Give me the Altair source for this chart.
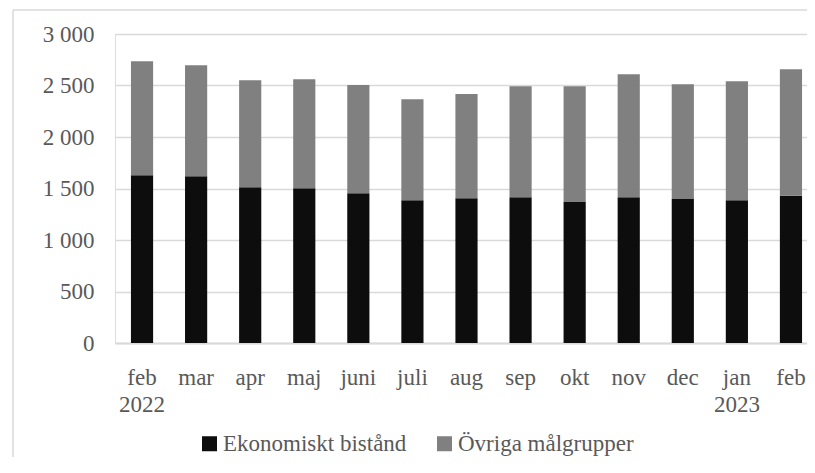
import altair as alt
import pandas as pd

months = ["feb 2022", "mar", "apr", "maj", "juni", "juli", "aug",
          "sep", "okt", "nov", "dec", "jan 2023", "feb"]
ekonomiskt = [1629, 1620, 1513, 1503, 1455, 1387, 1406, 1416, 1368, 1416, 1397, 1387, 1429]
totals = [2735, 2696, 2551, 2561, 2505, 2367, 2418, 2493, 2493, 2609, 2512, 2541, 2658]
ovriga = [t - e for t, e in zip(totals, ekonomiskt)]
series = ["Ekonomiskt bistånd", "Övriga målgrupper"]
colors = ["#0d0d0d", "#808080"]
y_ticks = [0, 500, 1000, 1500, 2000, 2500, 3000]

rows = []
for m, e, o in zip(months, ekonomiskt, ovriga):
    rows.append({"month": m, "serie": series[0], "value": e, "ord": 0})
    rows.append({"month": m, "serie": series[1], "value": o, "ord": 1})
df = pd.DataFrame(rows)

FONT = "Liberation Serif, Times New Roman, serif"
TXT = "#595959"

bars = alt.Chart(df).mark_bar().encode(
    x=alt.X("month:N", sort=months,
            scale=alt.Scale(paddingInner=0.59, paddingOuter=0.295),
            axis=alt.Axis(title=None, labelAngle=0, ticks=False, grid=False,
                          domain=True, domainColor="#d9d9d9", domainWidth=2,
                          labelPadding=23, labelLineHeight=27,
                          labelExpr="split(datum.label, ' ')")),
    y=alt.Y("value:Q", stack="zero",
            scale=alt.Scale(domain=[0, 3000], nice=False),
            axis=alt.Axis(title=None, values=y_ticks, ticks=False, domain=False,
                          grid=True, gridColor="#d9d9d9", gridWidth=1.5,
                          labelPadding=21,
                          labelExpr="replace(format(datum.value, ','), ',', ' ')")),
    color=alt.Color("serie:N",
                    scale=alt.Scale(domain=series, range=colors),
                    legend=alt.Legend(title=None, orient="none", direction="horizontal",
                                      legendX=83, legendY=398,
                                      symbolType="square", symbolSize=225,
                                      symbolStrokeWidth=0, labelLimit=0,
                                      labelOffset=2, columnPadding=26,
                                      padding=0)),
    order=alt.Order("ord:Q"),
)

frame_src = alt.Chart(pd.DataFrame({"a": [0]}))
frame_left = frame_src.mark_rule(stroke="#d9d9d9", strokeWidth=1.5).encode(
    x=alt.value(-102), y=alt.value(-24), y2=alt.value(430),
)
frame_top = frame_src.mark_rule(stroke="#d9d9d9", strokeWidth=1.5).encode(
    x=alt.value(-102), x2=alt.value(692), y=alt.value(-24),
)

chart = alt.layer(frame_left, frame_top, bars).properties(
    width=703, height=309,
    autosize=alt.AutoSizeParams(type="none"),
    padding={"left": 107, "top": 26, "right": -11, "bottom": 114},
).configure_view(stroke=None).configure(
    font=FONT
).configure_axis(
    labelFont=FONT, labelFontSize=23, labelColor=TXT
).configure_legend(
    labelFont=FONT, labelFontSize=23, labelColor=TXT
)

chart.save("out.html", embed_options={"renderer": "svg", "actions": False})
